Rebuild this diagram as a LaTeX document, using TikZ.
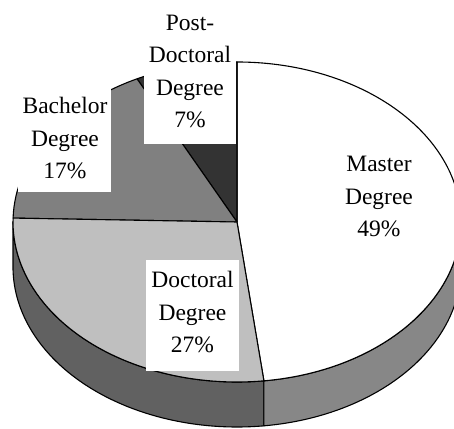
\documentclass[tikz,border=0pt]{standalone}
\usepackage{fontspec}
\setmainfont{Liberation Serif}
\definecolor{masterTop}{gray}{1.0}
\definecolor{doctTop}{gray}{0.75}
\definecolor{bachTop}{gray}{0.5}
\definecolor{postTop}{gray}{0.2}
\definecolor{doctSide}{gray}{0.38}
\definecolor{masterSide}{gray}{0.53}
\begin{document}
\begin{tikzpicture}[x=1pt,y=1pt,
  edge/.style={draw=black, line width=1.1pt, line join=round},
  rim/.style={x radius=224, y radius=160},
  labelbg/.style={fill=white},
  lbl/.style={font=\fontsize{23.5}{32.5}\selectfont, align=center, inner sep=0pt, anchor=north}]
\useasboundingbox (0,0) rectangle (454,428);
\clip (0,0) rectangle (454,428);

% centres of the top face and of the lower rim
\coordinate (C) at (237,206);

% visible side walls (front half of the disc, 45 units deep)
\filldraw[edge, fill=doctSide] (C) ++(180:224 and 160)
  arc[start angle=180, end angle=276.9, rim] -- ++(0,-45)
  arc[start angle=276.9, end angle=180, rim] -- cycle;
\filldraw[edge, fill=masterSide] (C) ++(276.9:224 and 160)
  arc[start angle=276.9, end angle=362, rim] -- ++(0,-45)
  arc[start angle=362, end angle=276.9, rim] -- cycle;

% top face slices
\filldraw[edge, fill=masterTop] (C) -- ++(-83.1:224 and 160)
  arc[start angle=-83.1, end angle=90, rim] -- cycle;
\filldraw[edge, fill=postTop] (C) -- ++(90:224 and 160)
  arc[start angle=90, end angle=116.5, rim] -- cycle;
\filldraw[edge, fill=bachTop] (C) -- ++(116.5:224 and 160)
  arc[start angle=116.5, end angle=178.6, rim] -- cycle;
\filldraw[edge, fill=doctTop] (C) -- ++(178.6:224 and 160)
  arc[start angle=178.6, end angle=276.9, rim] -- cycle;

% label backgrounds
\path[labelbg] (144,284) rectangle (236,440);
\path[labelbg] (18,236) rectangle (111,343);
\path[labelbg] (146,57) rectangle (239,168);

% labels
\node[lbl] (postdoc) at (190,413.4) {Post-\\Doctoral\\Degree\\7\%};
\node[lbl] (bachelor) at (65,331) {Bachelor\\Degree\\17\%};
\node[lbl] (doctoral) at (192.5,157) {Doctoral\\Degree\\27\%};
\node[lbl] (master) at (379,271.6) {Master\\Degree\\49\%};
\end{tikzpicture}
\end{document}
